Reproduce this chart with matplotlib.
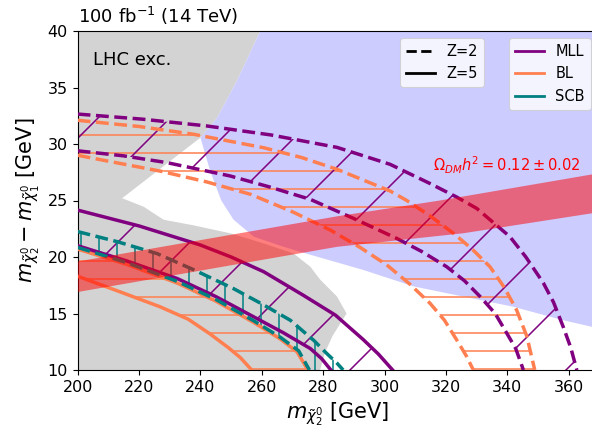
import matplotlib
matplotlib.use('Agg')
import matplotlib.pyplot as plt
from matplotlib.lines import Line2D

# contours: x = m_chi2 [GeV], y = mass splitting [GeV]
mll_z2_up_x = [200, 221, 242, 263, 284.5, 301.8, 314.8, 323.5, 330, 340.8, 346, 351.7,
               355, 358.2, 360.6, 362.6]
mll_z2_up_y = [32.65, 32.2, 31.6, 30.8, 29.7, 28.2, 26.5, 25.3, 24.3, 21.8, 20.0, 17.7,
               16.0, 13.8, 12.0, 10.0]
mll_z2_lo_x = [200, 215, 229.1, 249.7, 262.5, 275.8, 290, 303.9, 312, 320.2, 326, 331.1,
               336, 339.8, 342.7, 345.2]
mll_z2_lo_y = [29.4, 28.95, 28.35, 27.17, 26.2, 25.1, 23.4, 21.65, 20.5, 19.14, 17.9, 16.5,
               15.0, 13.25, 11.9, 10.0]

bl_z2_up_x = [200, 220, 237.8, 260.6, 273, 284.5, 301.8, 307.2, 315, 322.4, 328.5, 334.3,
              339, 343, 346.3, 348.9]
bl_z2_up_y = [32.1, 31.55, 30.86, 29.67, 28.8, 27.76, 25.84, 25.0, 23.6, 22.1, 20.7, 19.14,
              17.3, 15.3, 13.0, 10.0]
bl_z2_lo_x = [200, 226.9, 242, 256.3, 270, 282.2, 292, 300.7, 308, 314.8, 319.5, 323.5,
              326.5, 328.9]
bl_z2_lo_y = [29.0, 27.6, 26.65, 25.55, 24.0, 22.4, 20.85, 19.3, 17.65, 15.9, 14.4, 12.65,
              11.3, 10.0]

mll_z5_up_x = [200, 220, 240, 250, 260.6, 273.6, 284, 293, 298, 302.6]
mll_z5_up_y = [24.15, 22.75, 21.06, 20.0, 18.7, 16.6, 14.85, 12.7, 11.4, 10.0]
mll_z5_lo_x = [200, 216, 232.4, 245, 257.4, 267, 275.8, 279.5, 282.5]
mll_z5_lo_y = [21.0, 19.65, 18.1, 16.5, 14.7, 13.3, 11.9, 11.0, 10.0]

scb_z2_up_x = [200, 213, 225.9, 238, 250.8, 260, 269.3, 277, 281, 284.5, 286.5]
scb_z2_up_y = [22.25, 21.35, 20.3, 18.85, 17.2, 15.85, 14.4, 12.6, 11.5, 10.6, 10.0]
scb_z2_lo_x = [200, 216, 232.4, 245, 257.4, 266, 272, 275.5]
scb_z2_lo_y = [20.85, 19.5, 17.85, 16.25, 14.35, 12.9, 11.7, 10.0]

bl_z5_up_x = [200, 216, 232.4, 245, 257.4, 266, 271.5, 275]
bl_z5_up_y = [20.7, 19.35, 17.7, 16.1, 14.2, 12.75, 11.6, 10.0]
bl_z5_lo_x = [200, 213, 226.8, 236, 243.1, 249, 253, 256.7]
bl_z5_lo_y = [18.3, 17.0, 15.6, 14.5, 13.2, 12.0, 11.1, 10.0]

# excluded regions
lhc_x = [200, 259.5, 251.9, 245.4, 240, 225.9, 214.5, 221.5, 228, 237.8, 249.7,
         260.6, 270.4, 275.8, 279, 284.5, 287.6, 283, 280.5, 279, 200]
lhc_y = [40, 40, 35.6, 32.3, 30.56, 27.6, 25.2, 24.45, 23.3, 22.8, 22.1,
         21.2, 20.3, 19.14, 18, 16.5, 15.0, 13.0, 11.5, 10, 10]
blue_x = [259.5, 369.5, 369.5, 358.2, 341.9, 325.6, 309.4, 293.1, 282.2, 275.8,
          267.1, 257.4, 250.8, 246.8, 243.2, 240, 245.4, 251.9]
blue_y = [40, 40, 13.7, 14.4, 15.6, 16.5, 17.4, 18.85, 19.7, 20.2,
          20.9, 21.8, 23.3, 25.0, 27.6, 30.56, 32.3, 35.6]

# relic density band
relic_top_x = [200, 284.5, 318, 369.5]
relic_top_y = [19.6, 23.6, 25.0, 27.4]
relic_bot_x = [200, 284.5, 325.6, 369.5]
relic_bot_y = [16.9, 20.9, 22.1, 23.95]

methods = ['MLL', 'BL', 'SCB']
colors = {'MLL': 'purple', 'BL': 'coral', 'SCB': 'teal'}

# render at high dpi so the hatch spacing matches; sizes below are scaled by k
dpi = 216
k = 100 / dpi
plt.rcParams['hatch.linewidth'] = 1.1 * k
plt.rcParams['axes.linewidth'] = 0.8 * k
for a in ['xtick', 'ytick']:
    plt.rcParams[a + '.major.width'] = 0.8 * k
    plt.rcParams[a + '.major.size'] = 3.5 * k
    plt.rcParams[a + '.major.pad'] = 3.5 * k

fig = plt.figure(figsize=(592 / dpi, 432 / dpi), dpi=dpi)
ax = fig.add_axes([77.6 / 592, 1 - 370 / 432, 520.4 / 592, 339 / 432])

ax.fill(lhc_x, lhc_y, color='lightgray', lw=0, zorder=1)
ax.fill(blue_x, blue_y, color='#ccccff', lw=0, zorder=1)


def band(xu, yu, xl, yl, hatch, color, ls):
    xs = list(xu) + list(xl[::-1])
    ys = list(yu) + list(yl[::-1])
    ax.fill(xs, ys, facecolor='none', edgecolor=color, hatch=hatch, lw=0, zorder=2)
    ax.plot(xu, yu, color=color, ls=ls, lw=2.5 * k, zorder=3)
    ax.plot(xl, yl, color=color, ls=ls, lw=2.5 * k, zorder=3)


band(bl_z5_up_x, bl_z5_up_y, bl_z5_lo_x, bl_z5_lo_y, '--', colors['BL'], '-')
band(mll_z5_up_x, mll_z5_up_y, mll_z5_lo_x, mll_z5_lo_y, '/', colors['MLL'], '-')
band(scb_z2_up_x, scb_z2_up_y, scb_z2_lo_x, scb_z2_lo_y, '||', colors['SCB'], '--')
band(bl_z2_up_x, bl_z2_up_y, bl_z2_lo_x, bl_z2_lo_y, '--', colors['BL'], '--')
band(mll_z2_up_x, mll_z2_up_y, mll_z2_lo_x, mll_z2_lo_y, '/', colors['MLL'], '--')

ax.fill(relic_top_x + relic_bot_x[::-1], relic_top_y + relic_bot_y[::-1],
        color='red', alpha=0.5, lw=0, zorder=4)
ax.text(315.8, 28.15, r'$\Omega_{DM}h^2 = 0.12 \pm 0.02$', color='red',
        fontsize=10.5 * k, ha='left', va='center', zorder=6)
ax.text(205.1, 37.4, 'LHC exc.', fontsize=13 * k, va='center', zorder=6)

ax.set_xlim(200, 369.5)
ax.set_ylim(10, 40)
ax.set_xticks(range(200, 361, 20))
ax.set_yticks(range(10, 41, 5))
ax.tick_params(labelsize=11.5 * k)
ax.set_xlabel(r'$m_{\tilde{\chi}_2^0}$ [GeV]', fontsize=15 * k, labelpad=4 * k)
ax.set_ylabel(r'$m_{\tilde{\chi}_2^0} - m_{\tilde{\chi}_1^0}$ [GeV]', fontsize=15 * k,
              labelpad=4 * k)
ax.set_title(r'100 fb$^{-1}$ (14 TeV)', loc='left', fontsize=13 * k, pad=6 * k)

z_handles = [Line2D([], [], color='k', ls='--', lw=2 * k),
             Line2D([], [], color='k', ls='-', lw=2 * k)]
leg1 = ax.legend(z_handles, ['Z=2', 'Z=5'], loc='upper left',
                 bbox_to_anchor=((400 - 77.6) / 520.4, 1 - 7 / 339),
                 borderaxespad=0, fontsize=10.5 * k)
leg1.get_frame().set_linewidth(0.8 * k)
ax.add_artist(leg1)
m_handles = [Line2D([], [], color=colors[m], lw=2 * k) for m in methods]
leg2 = ax.legend(m_handles, methods, loc='upper right', fontsize=10.5 * k)
leg2.get_frame().set_linewidth(0.8 * k)

fig.savefig('out.png', dpi=dpi)
